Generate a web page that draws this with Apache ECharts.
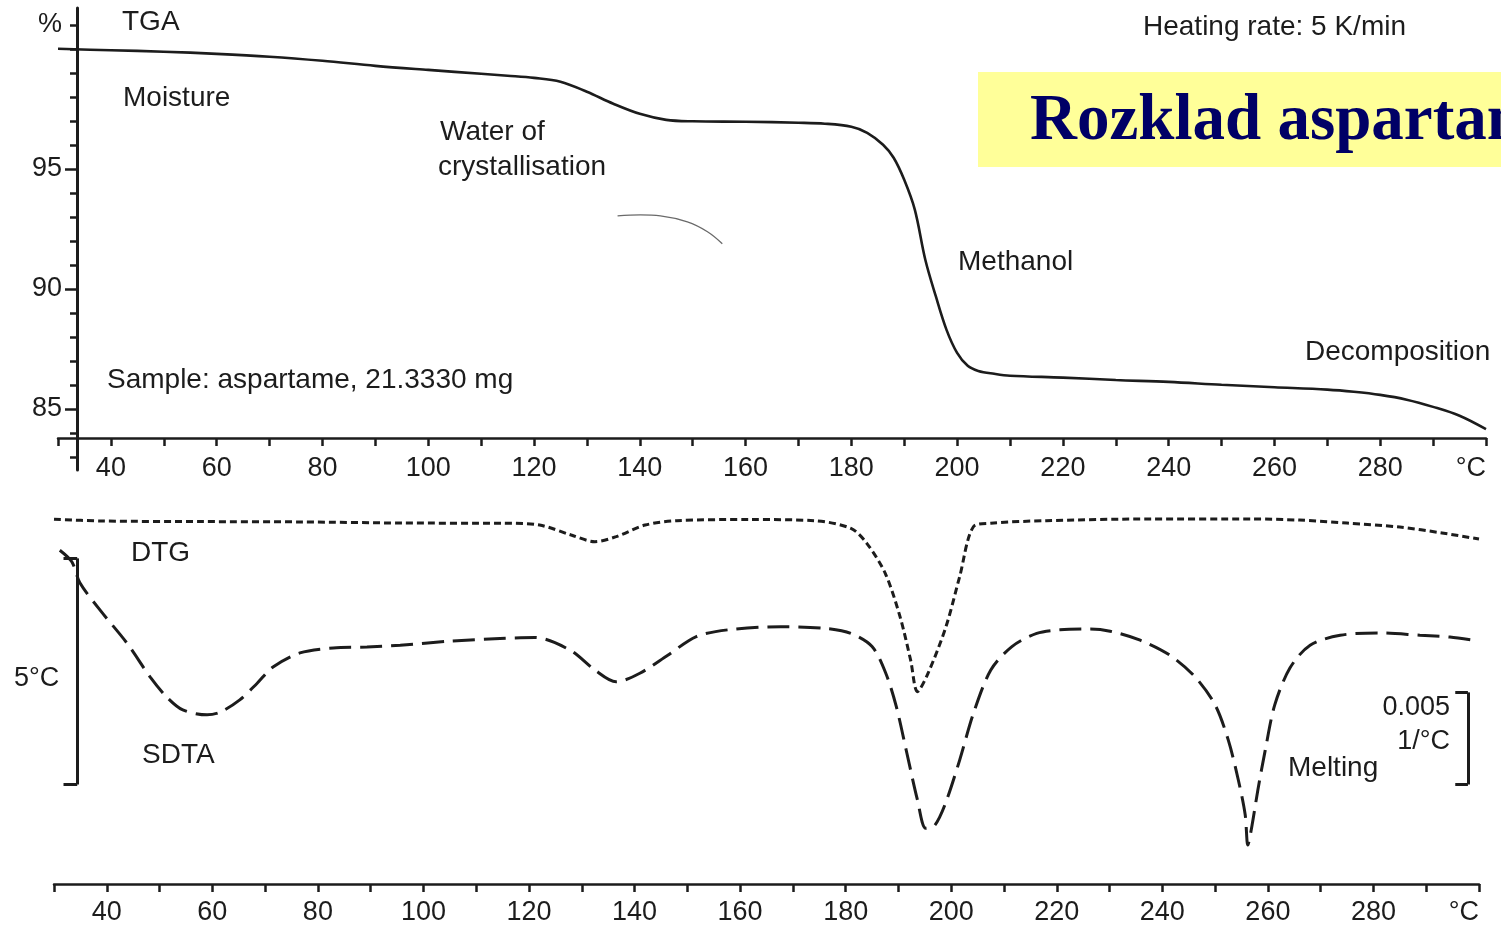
<!DOCTYPE html>
<html>
<head>
<meta charset="utf-8">
<title>Aspartame TGA / DTG / SDTA</title>
<script src="https://cdn.jsdelivr.net/npm/echarts@6/dist/echarts.min.js"></script>
<style>
  html, body { margin: 0; padding: 0; background: #ffffff; }
  #chart { width: 1501px; height: 928px; }
</style>
</head>
<body>
<div id="chart"></div>
<script>
// ---- data -------------------------------------------------------------

// Tick values
const tempTicks = [40, 60, 80, 100, 120, 140, 160, 180, 200, 220, 240, 260, 280];
const massTicks = [85, 90, 95];
const massMinorTicks = [83, 84, 85, 86, 87, 88, 89, 90, 91, 92, 93, 94, 95, 96, 97, 98, 99, 100, 101];

// TGA: remaining mass (%) against temperature (°C)
const tgaTemp = [30, 40, 50, 60, 70, 80, 90, 100, 110, 115, 120, 125, 130, 135, 140, 145, 150, 160, 170, 175,
                 180, 183, 186, 188, 190, 192, 194, 196, 198, 200, 202, 204, 207, 210, 220, 230, 240, 250, 260,
                 270, 275, 280, 285, 290, 295, 300];
const tgaMass = [100.0, 99.94, 99.88, 99.79, 99.67, 99.5, 99.29, 99.12, 98.96, 98.88, 98.79, 98.63, 98.21, 97.71,
                 97.29, 97.04, 96.98, 96.96, 96.92, 96.88, 96.75, 96.5, 96.0, 95.46, 94.54, 93.3, 91.2, 89.67,
                 88.29, 87.33, 86.79, 86.58, 86.46, 86.38, 86.3, 86.2, 86.12, 86.0, 85.9, 85.8, 85.71, 85.58,
                 85.38, 85.08, 84.71, 84.15];

// Short stray trace inside the TGA panel
const strayTemp = [135.8, 140.1, 143.9, 149.0, 152.8, 155.6];
const strayMass = [93.04, 93.08, 93.04, 92.79, 92.38, 91.88];

// DTG: mass-loss rate (1/°C)
const dtgTemp = [30, 39, 58, 77, 96, 115, 122, 128, 132.5, 136.5, 142, 148, 162, 174, 181, 184, 187.5, 190.3,
                 192.3, 193.6, 195.6, 199, 201.6, 204.2, 207.5, 218, 238, 257, 266, 275, 285, 293, 300];
const dtgRate = [0.0001, 0, -0.00003, -0.00005, -0.00011, -0.00012, -0.00022, -0.00076, -0.00112, -0.00085,
                 -0.00022, 0.00002, 0.00008, 0.00002, -0.0004, -0.00121, -0.00284, -0.00519, -0.00754, -0.00926,
                 -0.00827, -0.00574, -0.00302, -0.00031, -0.00012, 0.00002, 0.00011, 0.00011, 0.00005, -0.00011,
                 -0.00033, -0.00065, -0.00098];

// SDTA: temperature difference (°C)
const sdtaTemp = [31.1, 33.4, 34.9, 38.7, 43.8, 48.2, 51.4, 54.4, 59, 61.5, 65.2, 68.5, 71.5, 76.6, 82.9, 89.3,
                  95.6, 105, 114.5, 121.1, 127.8, 132.5, 136.5, 141, 146.3, 151.7, 157.7, 167.7, 176.3, 181, 185,
                  187.6, 189.6, 191.6, 193.6, 195.2, 196.9, 198.9, 201.6, 204.2, 207.5, 211.5, 216.2, 220.6,
                  226.3, 230.1, 235.8, 241.4, 246.2, 250, 252.5, 254.4, 255.7, 256.2, 257, 258.1, 259.5, 261.3,
                  264.2, 268, 273.7, 281.2, 288.8, 294.5, 300];
const sdtaDelta = [1.68, 1.42, 0.96, 0.36, -0.37, -1.12, -1.57, -1.85, -1.96, -1.9, -1.63, -1.26, -0.9, -0.59,
                   -0.48, -0.46, -0.42, -0.33, -0.27, -0.25, -0.53, -0.97, -1.23, -1.04, -0.64, -0.23, -0.08,
                   -0.01, -0.05, -0.16, -0.45, -1.04, -1.78, -2.81, -3.84, -4.47, -4.4, -3.92, -2.96, -1.93,
                   -0.97, -0.45, -0.16, -0.08, -0.06, -0.11, -0.31, -0.64, -1.12, -1.74, -2.52, -3.4, -4.17,
                   -4.84, -4.4, -3.62, -2.74, -1.74, -0.92, -0.42, -0.2, -0.15, -0.2, -0.24, -0.33];

// Scale bars of the lower panel
const sdtaBar = { t: 34.4, capT: 31.8, top: 1.5, span: 5 };          // 5 °C
const dtgBar = { t: 297.9, capT: 295.5, top: -0.0093, span: 0.005 };  // 0.005 1/°C

// ---- chart ------------------------------------------------------------

const INK = '#1c1c1c';
const SANS = '"Liberation Sans", Arial, Helvetica, sans-serif';
const zip = (xs, ys) => xs.map((x, i) => [x, ys[i]]);

function tempLabel(v) {
  if (v === 300) return '°C';
  return tempTicks.indexOf(v) >= 0 ? String(v) : '';
}

function tempAxis(gridIndex, offset, margin) {
  return {
    gridIndex: gridIndex,
    type: 'value',
    position: 'bottom',
    min: 30,
    max: 300,
    interval: 10,
    offset: offset,
    axisLine: { show: true, onZero: false, lineStyle: { color: INK, width: 2.5 } },
    axisTick: { show: true, length: 8, lineStyle: { color: INK, width: 2.5 } },
    axisLabel: {
      show: true, formatter: tempLabel, margin: margin, color: INK,
      fontFamily: SANS, fontSize: 27, alignMaxLabel: 'right', hideOverlap: false
    },
    splitLine: { show: false }
  };
}

function bracket(bar) {
  const bottom = bar.top - bar.span;
  return [
    [{ coord: [bar.t, bar.top] }, { coord: [bar.t, bottom] }],
    [{ coord: [bar.capT, bar.top] }, { coord: [bar.t, bar.top] }],
    [{ coord: [bar.capT, bottom] }, { coord: [bar.t, bottom] }]
  ];
}

function markBracket(bar) {
  return {
    silent: true,
    symbol: ['none', 'none'],
    animation: false,
    label: { show: false },
    emphasis: { disabled: true },
    lineStyle: { type: 'solid', color: INK, width: 3 },
    data: bracket(bar)
  };
}

function note(text, x, y, opts) {
  return {
    type: 'text',
    x: x,
    y: y,
    silent: true,
    style: Object.assign({
      text: text,
      fill: INK,
      font: '28px ' + SANS,
      textAlign: 'left',
      align: 'left',
      textVerticalAlign: 'middle',
      verticalAlign: 'middle'
    }, opts || {})
  };
}

const chart = echarts.init(document.getElementById('chart'), null, { renderer: 'canvas' });

chart.setOption({
  animation: false,
  backgroundColor: '#ffffff',
  grid: [
    { left: 58, top: 8, width: 1428, height: 462, containLabel: false, outerBoundsMode: 'none' },
    { left: 54, top: 486, width: 1425, height: 398, containLabel: false, outerBoundsMode: 'none' }
  ],
  xAxis: [
    tempAxis(0, -32, 17),
    tempAxis(1, 0, 15)
  ],
  yAxis: [
    { // TGA axis line with 1 % ticks
      gridIndex: 0, type: 'value', position: 'left', min: 82.45, max: 101.7, offset: -19,
      axisLine: { show: true, onZero: false, lineStyle: { color: INK, width: 3 } },
      axisTick: { show: true, length: 7, customValues: massMinorTicks, lineStyle: { color: INK, width: 2.5 } },
      axisLabel: { show: false },
      splitLine: { show: false }
    },
    { // TGA labelled ticks
      gridIndex: 0, type: 'value', position: 'left', min: 82.45, max: 101.7, offset: -19,
      axisLine: { show: false, onZero: false },
      axisTick: { show: true, length: 12, customValues: massTicks, lineStyle: { color: INK, width: 2.5 } },
      axisLabel: {
        show: true, customValues: massTicks.concat([101]),
        formatter: (v) => (v === 101 ? '%' : String(v)),
        margin: 15, color: INK, fontFamily: SANS, fontSize: 27
      },
      splitLine: { show: false }
    },
    { gridIndex: 1, type: 'value', position: 'left', min: -5.7, max: 3.1, show: false },       // SDTA, °C
    { gridIndex: 1, type: 'value', position: 'left', min: -0.0197, max: 0.0019, show: false }  // DTG, 1/°C
  ],
  series: [
    {
      name: 'TGA', type: 'line', xAxisIndex: 0, yAxisIndex: 0,
      data: zip(tgaTemp, tgaMass),
      smooth: 0.35, symbol: 'none', silent: true, z: 4,
      lineStyle: { color: INK, width: 2.6 }
    },
    {
      name: 'trace', type: 'line', xAxisIndex: 0, yAxisIndex: 0,
      data: zip(strayTemp, strayMass),
      smooth: 0.4, symbol: 'none', silent: true,
      lineStyle: { color: '#6a6a6a', width: 1.3 }
    },
    {
      name: 'DTG', type: 'line', xAxisIndex: 1, yAxisIndex: 3,
      data: zip(dtgTemp, dtgRate),
      smooth: 0.3, symbol: 'none', silent: true,
      lineStyle: { color: INK, width: 3, type: [7, 4] },
      markLine: markBracket(dtgBar)
    },
    {
      name: 'SDTA', type: 'line', xAxisIndex: 1, yAxisIndex: 2,
      data: zip(sdtaTemp, sdtaDelta),
      smooth: 0.3, symbol: 'none', silent: true,
      lineStyle: { color: INK, width: 3, type: [22, 9] },
      markLine: markBracket(sdtaBar)
    }
  ],
  graphic: [
    { type: 'rect', silent: true, shape: { x: 978, y: 72, width: 560, height: 95 }, style: { fill: '#ffff99' }, z: 0 },
    note('Rozklad aspartamu', 1030, 122, { font: 'bold 65px "Liberation Serif", "Times New Roman", serif', fill: '#000066' }),
    note('Heating rate: 5 K/min', 1143, 27),
    note('TGA', 122, 22),
    note('Moisture', 123, 98),
    note('Water of', 440, 132),
    note('crystallisation', 438, 167),
    note('Methanol', 958, 262),
    note('Sample: aspartame, 21.3330 mg', 107, 380),
    note('Decomposition', 1305, 352),
    note('DTG', 131, 553),
    note('SDTA', 142, 755),
    note('5°C', 14, 679, { font: '27px ' + SANS }),
    note('0.005', 1450, 708, { font: '27px ' + SANS, textAlign: 'right', align: 'right' }),
    note('1/°C', 1450, 742, { font: '27px ' + SANS, textAlign: 'right', align: 'right' }),
    note('Melting', 1288, 768)
  ]
});
</script>
</body>
</html>
